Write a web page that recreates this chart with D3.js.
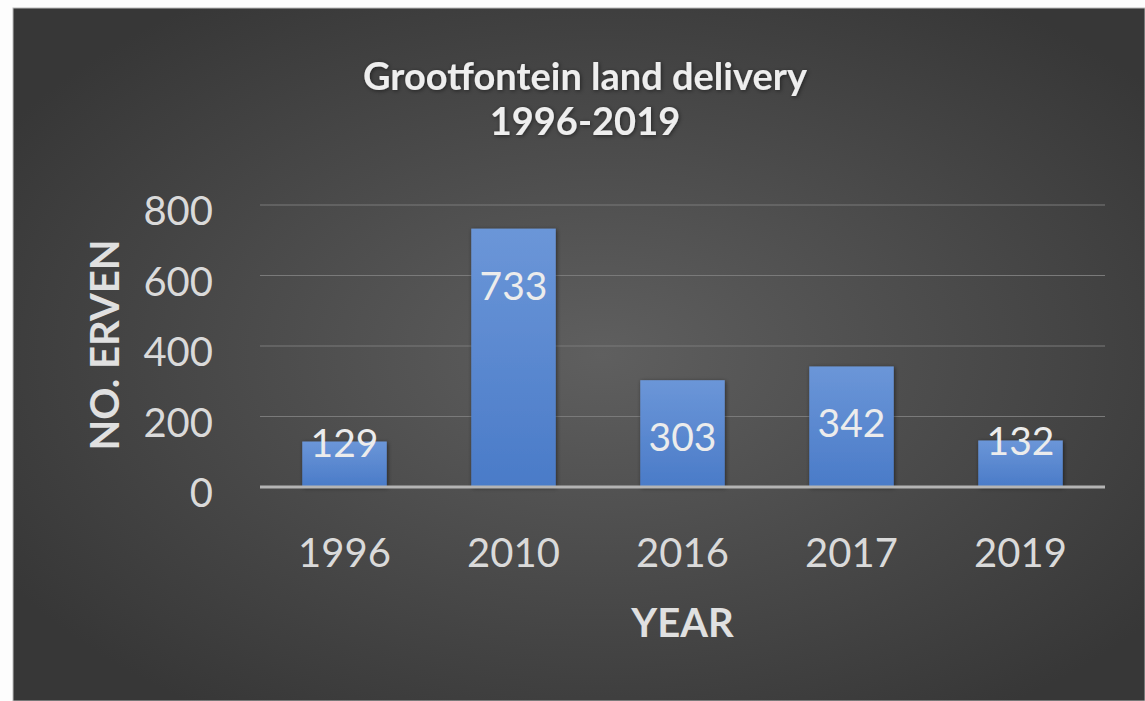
<!DOCTYPE html>
<html>
<head>
<meta charset="utf-8">
<script src="https://cdn.jsdelivr.net/npm/d3@7"></script>
<style>
  body { margin: 0; background: #fdfdfd; }
  svg { display: block; }
</style>
</head>
<body>
<svg width="1145" height="701"></svg>
<script>
var svg = d3.select("svg");
var width = 1145, height = 701;

// data
var years = ["1996", "2010", "2016", "2017", "2019"];
var erven = [129, 733, 303, 342, 132];
var yTicks = [0, 200, 400, 600, 800];
var titleLines = ["Grootfontein land delivery", "1996-2019"];

var font = "Lato, 'Open Sans', sans-serif";

// plot area
var plotLeft = 260, plotRight = 1105, plotTop = 205, plotBottom = 487;

var defs = svg.append("defs");

// chart background - radial gradient, lighter in the middle
var bg = defs.append("radialGradient")
    .attr("id", "bg")
    .attr("cx", "52%").attr("cy", "50%").attr("r", "62%");
bg.append("stop").attr("offset", "0%").attr("stop-color", "#5f5f5f");
bg.append("stop").attr("offset", "100%").attr("stop-color", "#373737");

// bar fill
var barGrad = defs.append("linearGradient")
    .attr("id", "barGrad")
    .attr("x1", 0).attr("y1", 0).attr("x2", 0).attr("y2", 1);
barGrad.append("stop").attr("offset", "0%").attr("stop-color", "#6b96d8");
barGrad.append("stop").attr("offset", "100%").attr("stop-color", "#4a7bc8");

var shadow = defs.append("filter").attr("id", "shadow")
    .attr("x", "-20%").attr("y", "-20%").attr("width", "140%").attr("height", "140%");
shadow.append("feDropShadow")
    .attr("dx", 1).attr("dy", 1).attr("stdDeviation", 2)
    .attr("flood-color", "#000").attr("flood-opacity", 0.5);

svg.append("rect")
    .attr("x", 13).attr("y", 8)
    .attr("width", width - 13).attr("height", height - 8)
    .attr("fill", "url(#bg)")
    .attr("stroke", "#bbb").attr("stroke-width", 1);

// scales
var x = d3.scaleBand()
    .domain(years)
    .range([plotLeft, plotRight])
    .paddingInner(0.5)
    .paddingOuter(0.25);

var y = d3.scaleLinear()
    .domain([0, 800])
    .range([plotBottom, plotTop]);

// gridlines
svg.append("g")
    .selectAll("line")
    .data(yTicks.filter(function (d) { return d > 0; }))
    .enter().append("line")
    .attr("x1", plotLeft).attr("x2", plotRight)
    .attr("y1", function (d) { return y(d); })
    .attr("y2", function (d) { return y(d); })
    .attr("stroke", "#7a7a7a")
    .attr("stroke-width", 1.2);

// y tick labels
svg.append("g")
    .selectAll("text")
    .data(yTicks)
    .enter().append("text")
    .attr("x", 213)
    .attr("y", function (d) { return y(d) + 5; })
    .attr("text-anchor", "end")
    .attr("dominant-baseline", "central")
    .attr("fill", "#dadada")
    .style("font-family", font)
    .style("font-size", "40px")
    .text(function (d) { return d; });

// bars
svg.append("g")
    .selectAll("rect")
    .data(erven)
    .enter().append("rect")
    .attr("x", function (d, i) { return x(years[i]); })
    .attr("y", function (d) { return y(d); })
    .attr("width", x.bandwidth())
    .attr("height", function (d) { return y(0) - y(d); })
    .attr("fill", "url(#barGrad)")
    .attr("filter", "url(#shadow)");

// x axis line
svg.append("line")
    .attr("x1", plotLeft).attr("x2", plotRight)
    .attr("y1", y(0)).attr("y2", y(0))
    .attr("stroke", "#b4b4b4")
    .attr("stroke-width", 3);

// value labels (inside end; short bars get the label centred on the top edge)
svg.append("g")
    .selectAll("text")
    .data(erven)
    .enter().append("text")
    .attr("x", function (d, i) { return x(years[i]) + x.bandwidth() / 2; })
    .attr("y", function (d) {
        var h = y(0) - y(d);
        return h > 80 ? y(d) + 56 : y(d);
    })
    .attr("text-anchor", "middle")
    .attr("dominant-baseline", "central")
    .attr("fill", "#ececec")
    .style("font-family", font)
    .style("font-size", "39px")
    .text(function (d) { return d; });

// x tick labels
svg.append("g")
    .selectAll("text")
    .data(years)
    .enter().append("text")
    .attr("x", function (d) { return x(d) + x.bandwidth() / 2; })
    .attr("y", 567)
    .attr("text-anchor", "middle")
    .attr("fill", "#dadada")
    .style("font-family", font)
    .style("font-size", "40px")
    .text(function (d) { return d; });

// axis titles
svg.append("text")
    .attr("x", (plotLeft + plotRight) / 2)
    .attr("y", 637)
    .attr("text-anchor", "middle")
    .attr("fill", "#e0e0e0")
    .style("font-family", font)
    .style("font-weight", "bold")
    .style("font-size", "40px")
    .text("YEAR");

svg.append("text")
    .attr("transform", "translate(119,345) rotate(-90)")
    .attr("text-anchor", "middle")
    .attr("fill", "#e0e0e0")
    .style("font-family", font)
    .style("font-weight", "bold")
    .style("font-size", "40px")
    .text("NO. ERVEN");

// title
svg.append("g")
    .selectAll("text")
    .data(titleLines)
    .enter().append("text")
    .attr("x", 585)
    .attr("y", function (d, i) { return 90 + i * 45; })
    .attr("text-anchor", "middle")
    .attr("fill", "#eeeeee")
    .attr("filter", "url(#shadow)")
    .style("font-family", font)
    .style("font-weight", "bold")
    .style("font-size", "38px")
    .text(function (d) { return d; });
</script>
</body>
</html>
